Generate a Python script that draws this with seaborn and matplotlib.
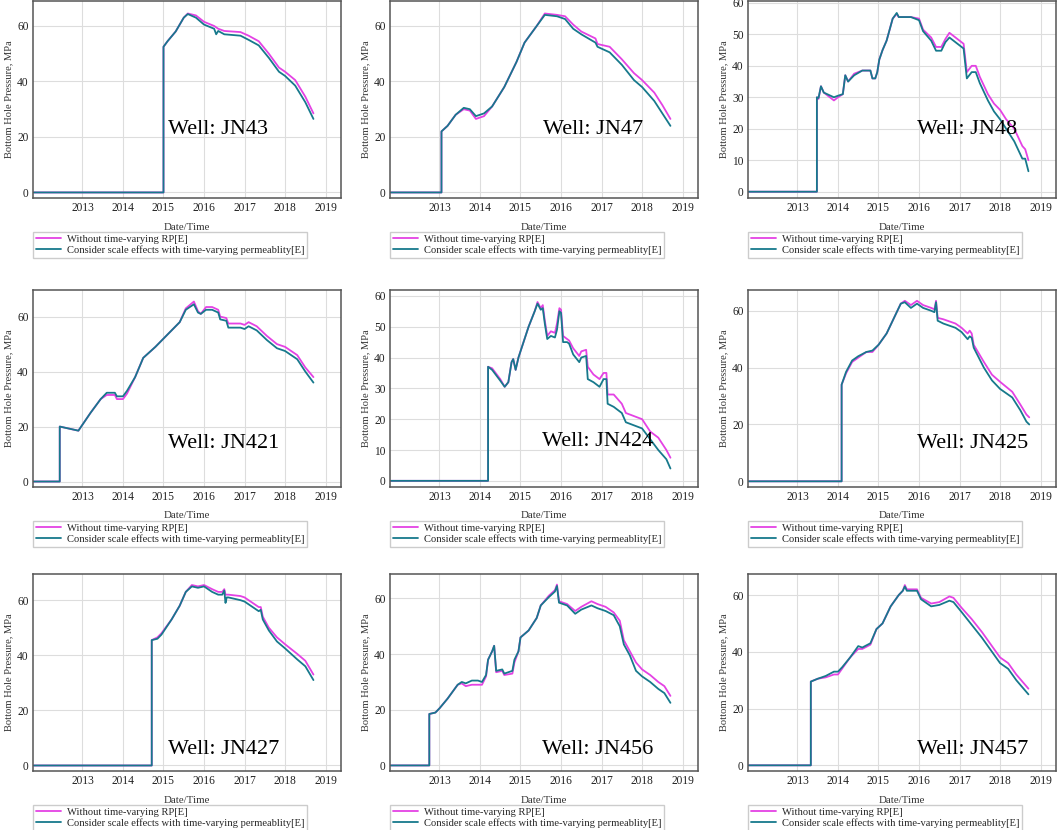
import matplotlib
matplotlib.use("Agg")
import matplotlib.pyplot as plt
import pandas as pd
import seaborn as sns

# bottom hole pressure, MPa (time in decimal years)
wells = ["JN43", "JN47", "JN48", "JN421", "JN424", "JN425", "JN427", "JN456", "JN457"]
series_names = ["Without time-varying RP[E]",
                "Consider scale effects with time-varying permeablity[E]"]

jn43_t = [2011.8, 2015.0, 2015.0, 2015.1, 2015.3, 2015.5, 2015.6, 2015.8, 2016.0, 2016.25, 2016.3,
          2016.35, 2016.5, 2016.9, 2017.1, 2017.35, 2017.6, 2017.85, 2018.0, 2018.25, 2018.5, 2018.7]
jn43_rp = [0, 0, 52.5, 54.5, 58.0, 63.0, 64.5, 63.8, 61.5, 60.0, 59.5,
           59.0, 58.2, 57.8, 56.5, 54.5, 50.0, 45.0, 43.5, 40.5, 34.5, 28.5]
jn43_sc = [0, 0, 52.5, 54.5, 58.0, 63.0, 64.3, 63.0, 60.5, 59.0, 57.0,
           58.2, 57.0, 56.5, 55.0, 53.0, 48.5, 43.5, 42.0, 38.5, 32.5, 26.5]

jn47_t = [2011.8, 2013.05, 2013.05, 2013.2, 2013.4, 2013.6, 2013.75, 2013.9, 2014.1, 2014.3,
          2014.6, 2014.9, 2015.1, 2015.2, 2015.4, 2015.6, 2015.9, 2016.1, 2016.3, 2016.5,
          2016.85, 2016.9, 2017.2, 2017.5, 2017.8, 2018.0, 2018.3, 2018.5, 2018.7]
jn47_rp = [0, 0, 22, 24, 28, 30, 29.5, 26.5, 27.5, 31,
           38, 47, 54, 56, 60, 64.5, 64, 63.5, 60.5, 58,
           55.5, 53.5, 52.5, 48, 43, 40.5, 36, 31.5, 26.5]
jn47_sc = [0, 0, 22, 24, 28, 30.5, 30, 27.5, 28.5, 31,
           38, 47, 54, 56, 60, 64, 63.5, 62.5, 59, 57,
           54, 52.5, 50.5, 46, 40.5, 38, 33, 28.5, 24]

jn48_t = [2011.8, 2013.48, 2013.48, 2013.52, 2013.58, 2013.65, 2013.9, 2014.0, 2014.12, 2014.18,
          2014.25, 2014.4, 2014.6, 2014.8, 2014.85, 2014.92, 2014.97, 2015.02, 2015.1, 2015.2,
          2015.35, 2015.45, 2015.5, 2015.8, 2016.0, 2016.1, 2016.3, 2016.42, 2016.55, 2016.65,
          2016.75, 2016.9, 2017.1, 2017.18, 2017.3, 2017.4, 2017.5, 2017.7, 2017.85, 2018.0,
          2018.15, 2018.35, 2018.55, 2018.62, 2018.7]
jn48_rp = [0, 0, 30, 29.5, 33.5, 31.5, 29, 30, 31, 37,
           35, 37.5, 38.5, 38.5, 36, 36, 38, 42, 45, 48,
           55, 56.5, 55.5, 55.5, 55, 51.5, 49, 46, 46, 48.5,
           50.5, 49, 47, 38, 40, 40, 36.5, 31, 28, 26,
           23, 20, 14.5, 13.5, 10]
jn48_sc = [0, 0, 30, 29.8, 33.5, 31.5, 30, 30.5, 31, 37,
           35, 37, 38.5, 38.5, 36, 36, 38, 42, 45, 48,
           55, 56.8, 55.5, 55.5, 54.5, 51, 48, 44.8, 44.8, 47.5,
           49, 47.5, 45.5, 36, 38, 38, 34.5, 29, 25.5, 23,
           20, 16, 10.5, 10.5, 6.5]

jn421_t = [2011.8, 2012.44, 2012.44, 2012.9, 2013.2, 2013.45, 2013.6, 2013.8, 2013.85, 2014.0,
           2014.1, 2014.3, 2014.5, 2014.8, 2015.0, 2015.2, 2015.4, 2015.55, 2015.75, 2015.85,
           2015.92, 2016.05, 2016.2, 2016.35, 2016.4, 2016.55, 2016.6, 2016.9, 2017.0, 2017.1,
           2017.3, 2017.55, 2017.8, 2018.0, 2018.3, 2018.5, 2018.7]
jn421_rp = [0, 0, 20, 18.5, 25, 30, 31.5, 31.5, 30, 30,
            32, 38, 45, 49, 52, 55, 58, 63, 65.5, 62,
            61, 63.5, 63.5, 62.5, 60, 59.5, 57.5, 57.5, 57, 58,
            56.5, 53, 50, 49, 46, 41.5, 38]
jn421_sc = [0, 0, 20, 18.5, 25, 30, 32.3, 32.3, 31, 31,
            33, 38, 45, 49, 52, 55, 58, 62.5, 64.5, 61.5,
            61, 62.5, 62.5, 61.5, 59, 58.5, 56, 56, 55.5, 56.5,
            55, 51.5, 48.5, 47.5, 44.5, 40, 36]

jn424_t = [2011.8, 2014.2, 2014.2, 2014.3, 2014.5, 2014.61, 2014.7, 2014.78, 2014.82, 2014.88,
           2014.95, 2015.05, 2015.2, 2015.35, 2015.42, 2015.5, 2015.55, 2015.6, 2015.66, 2015.75,
           2015.85, 2015.9, 2015.96, 2016.0, 2016.05, 2016.15, 2016.2, 2016.3, 2016.45, 2016.5,
           2016.62, 2016.66, 2016.8, 2016.95, 2017.05, 2017.12, 2017.15, 2017.3, 2017.5, 2017.6,
           2017.8, 2018.0, 2018.2, 2018.4, 2018.6, 2018.7]
jn424_rp = [0, 0, 37, 36.5, 33, 30.5, 32, 38.5, 39.5, 36,
            40, 44, 50, 55, 58, 56, 57, 52, 47, 48.5,
            48, 51, 56, 55.5, 47, 46, 45.5, 43, 40.5, 42,
            42.5, 37, 34.5, 33, 35, 35, 28, 28, 25, 22,
            21, 20, 16, 14, 10, 7.5]
jn424_sc = [0, 0, 37, 36, 32.5, 30.5, 32, 38.5, 39.5, 36,
            40, 44, 50, 55, 57.5, 55.5, 56, 51, 46, 47,
            46.5, 49, 55, 54.5, 45, 45, 44.5, 41, 38.5, 40,
            40.5, 33, 32, 30.5, 33, 33, 25, 24, 22, 19,
            18, 17, 13.5, 10, 7, 4]

jn425_t = [2011.8, 2014.09, 2014.09, 2014.2, 2014.35, 2014.5, 2014.7, 2014.85, 2015.0, 2015.2,
           2015.4, 2015.55, 2015.65, 2015.8, 2015.95, 2016.1, 2016.3, 2016.38, 2016.42, 2016.46,
           2016.6, 2016.9, 2017.05, 2017.2, 2017.25, 2017.3, 2017.35, 2017.6, 2017.8, 2018.0,
           2018.3, 2018.5, 2018.65, 2018.72]
jn425_rp = [0, 0, 34, 38, 42, 43.5, 45.5, 45.5, 48, 52,
            58, 62.5, 63.5, 62, 63.5, 62, 61, 60.5, 63.5, 57.5,
            57, 55.5, 54, 52, 53, 52, 48, 42, 37.5, 35,
            31.5, 27, 23.5, 22.5]
jn425_sc = [0, 0, 34, 38.5, 42.5, 44, 45.5, 46, 48, 52,
            58, 62.5, 63, 61, 62.5, 61, 60, 59.5, 63, 56.5,
            55.5, 54, 52.5, 50, 51, 50.5, 47, 40, 35.5, 32.5,
            29.5, 25, 21, 20]

jn427_t = [2011.8, 2014.71, 2014.71, 2014.85, 2014.95, 2015.2, 2015.4, 2015.55, 2015.7, 2015.85,
           2016.0, 2016.2, 2016.35, 2016.45, 2016.5, 2016.53, 2016.56, 2016.6, 2016.9, 2017.0,
           2017.2, 2017.35, 2017.4, 2017.45, 2017.6, 2017.8, 2018.0, 2018.3, 2018.5, 2018.7]
jn427_rp = [0, 0, 45.5, 46.5, 48, 53, 58, 63, 65.5, 65,
            65.5, 64, 63, 63, 64, 62, 62, 62, 61.5, 61,
            59, 57.5, 57.5, 54, 50, 46.5, 44, 40.5, 38, 33]
jn427_sc = [0, 0, 45.5, 46, 47.5, 53, 58, 63, 65, 64.5,
            65, 63, 62, 62, 63.5, 59, 61, 61, 60, 59.5,
            57.5, 56, 56.5, 53, 49, 45, 42.5, 38.5, 36, 31]

jn456_t = [2011.8, 2012.75, 2012.75, 2012.9, 2013.0, 2013.2, 2013.45, 2013.55, 2013.65, 2013.8,
           2013.95, 2014.05, 2014.15, 2014.2, 2014.3, 2014.35, 2014.4, 2014.55, 2014.6, 2014.8,
           2014.85, 2014.95, 2015.0, 2015.2, 2015.4, 2015.5, 2015.7, 2015.85, 2015.9, 2015.95,
           2016.15, 2016.35, 2016.5, 2016.75, 2016.9, 2017.1, 2017.3, 2017.45, 2017.55, 2017.7,
           2017.85, 2018.0, 2018.2, 2018.4, 2018.55, 2018.7]
jn456_rp = [0, 0, 18.5, 19, 20.5, 24, 29, 29.5, 28.5, 29,
            29, 29, 32, 38, 41, 43, 33.5, 34, 32.5, 33,
            37, 41, 46, 48.5, 53, 57.5, 61, 63, 65, 59,
            58, 55.5, 57, 59, 58, 57, 55, 52, 45, 41,
            37, 34.5, 32.5, 30, 28.5, 25]
jn456_sc = [0, 0, 18.5, 19, 20.5, 24, 29, 30, 29.5, 30.5,
            30.5, 30, 32.5, 38, 41, 43, 34, 34.5, 33, 34,
            38, 41, 46, 48.5, 53, 57.5, 60.5, 62.5, 64.5, 58.5,
            57.5, 54.5, 56, 57.5, 56.5, 55.5, 54, 50, 43.5, 39.5,
            34, 32, 30, 27.5, 26, 22.5]

jn457_t = [2011.8, 2013.33, 2013.33, 2013.5, 2013.7, 2013.9, 2014.0, 2014.1, 2014.3, 2014.5,
           2014.6, 2014.8, 2014.95, 2015.1, 2015.3, 2015.5, 2015.6, 2015.65, 2015.7, 2015.95,
           2016.05, 2016.3, 2016.5, 2016.75, 2016.85, 2017.05, 2017.3, 2017.55, 2017.8, 2018.0,
           2018.2, 2018.4, 2018.7]
jn457_rp = [0, 0, 29.5, 30.5, 31, 32, 32, 34, 38, 41,
            41, 42.5, 48, 50, 56, 60, 61.5, 63.5, 62, 62,
            59, 57, 57.5, 59.5, 59, 55.5, 51.5, 47, 42, 38,
            36, 32, 27]
jn457_sc = [0, 0, 29.5, 30.5, 31.5, 33, 33, 34.5, 38, 42,
            41.5, 43, 48, 50, 56, 60, 61.5, 63, 61.5, 61.5,
            58.5, 56, 56.5, 58, 57.5, 54, 49.5, 45, 40, 36,
            34, 30, 25]

year_ticks = [2013, 2014, 2015, 2016, 2017, 2018, 2019]

# build one long table
raw = {
    "JN43": (jn43_t, jn43_rp, jn43_sc), "JN47": (jn47_t, jn47_rp, jn47_sc),
    "JN48": (jn48_t, jn48_rp, jn48_sc), "JN421": (jn421_t, jn421_rp, jn421_sc),
    "JN424": (jn424_t, jn424_rp, jn424_sc), "JN425": (jn425_t, jn425_rp, jn425_sc),
    "JN427": (jn427_t, jn427_rp, jn427_sc), "JN456": (jn456_t, jn456_rp, jn456_sc),
    "JN457": (jn457_t, jn457_rp, jn457_sc),
}
rows = []
for well, (t, rp, sc) in raw.items():
    for name, vals in zip(series_names, (rp, sc)):
        for i, (x, y) in enumerate(zip(t, vals)):
            rows.append({"well": well, "case": name, "order": i, "time": x, "bhp": y})
df = pd.DataFrame(rows)

# layout / style
sns.set_theme(style="whitegrid", rc={"grid.color": "#dddddd", "grid.linewidth": 0.8,
                                     "axes.edgecolor": "#555555", "axes.linewidth": 1.1})
plt.rcParams["font.family"] = ["Liberation Serif", "DejaVu Serif"]
palette = {series_names[0]: "#e442e4", series_names[1]: "#17798c"}

W, H = 1059, 830
fig = plt.figure(figsize=(W / 100, H / 100), dpi=100)
col_left = [33, 390, 748]
row_top = [1, 290, 574]
ax_w, ax_h = 308, 197

ymax = {"JN43": 69, "JN47": 69, "JN48": 60.6, "JN421": 69.7, "JN424": 61.9,
        "JN425": 67.3, "JN427": 69.5, "JN456": 68.8, "JN457": 67.4}
label_pos = {"JN43": (0.60, 0.35), "JN47": (0.66, 0.35), "JN48": (0.71, 0.35),
             "JN421": (0.62, 0.22), "JN424": (0.675, 0.23), "JN425": (0.73, 0.22),
             "JN427": (0.62, 0.11), "JN456": (0.675, 0.11), "JN457": (0.73, 0.11)}

for k, well in enumerate(wells):
    r, c = divmod(k, 3)
    ax = fig.add_axes([col_left[c] / W, 1 - (row_top[r] + ax_h) / H, ax_w / W, ax_h / H])
    sub = df[df["well"] == well].sort_values(["case", "order"])
    sns.lineplot(data=sub, x="time", y="bhp", hue="case", hue_order=series_names,
                 palette=palette, estimator=None, sort=False, units="case",
                 linewidth=1.3, ax=ax)
    ax.set_xlim(2011.78, 2019.38)
    ax.set_ylim(-2, ymax[well])
    ax.set_xticks(year_ticks)
    ax.set_xticklabels([str(y) for y in year_ticks])
    if well in ("JN48", "JN424"):
        ax.set_yticks(range(0, 61, 10))
    else:
        ax.set_yticks(range(0, 61, 20))
    ax.tick_params(length=0, pad=3, labelsize=8.3, labelcolor="#222222")
    ax.set_xlabel("Date/Time", fontsize=7.8, color="#333333", labelpad=6)
    ax.set_ylabel("Bottom Hole Pressure, MPa", fontsize=7.6, color="#333333", labelpad=3)
    ax.text(*label_pos[well], f"Well: {well}", transform=ax.transAxes,
            ha="center", va="center", fontsize=16, color="black")
    handles, labels = ax.get_legend_handles_labels()
    ax.legend(handles, labels, loc="upper left", bbox_to_anchor=(0, -0.172),
              frameon=True, fancybox=False, edgecolor="#cccccc", framealpha=1,
              fontsize=7.6, handlelength=2.4, handletextpad=0.6, borderpad=0.25,
              labelspacing=0.12, borderaxespad=0)

fig.savefig("out.png", dpi=100)
